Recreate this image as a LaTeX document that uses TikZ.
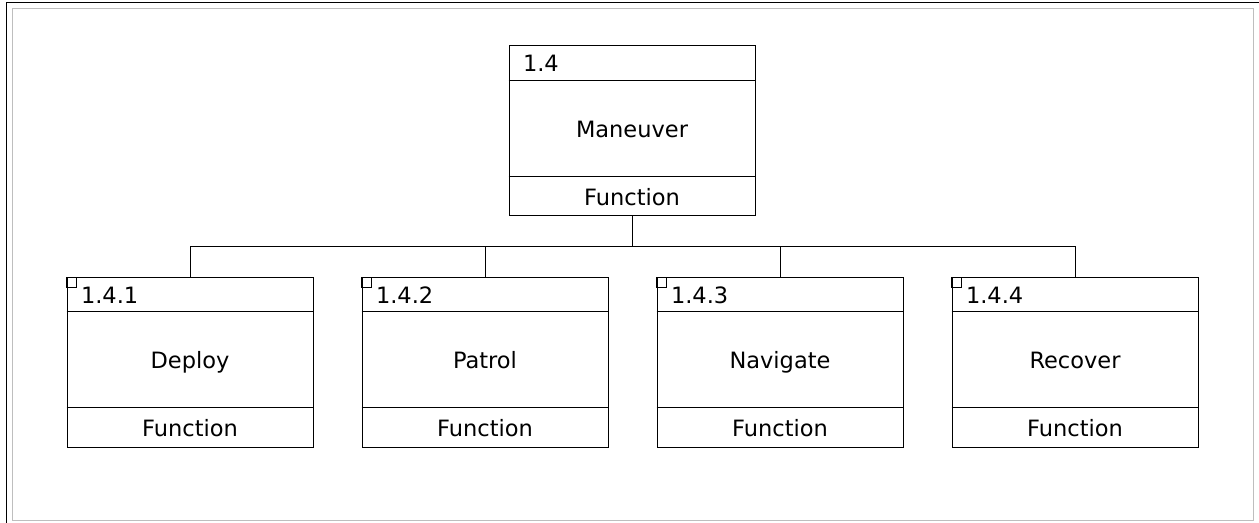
\documentclass[tikz,border=0pt]{standalone}
\usepackage{fontspec}
\setmainfont{DejaVu Sans}
\definecolor{framegray}{RGB}{190,190,190}
\tikzset{
  fbox/.style={draw, minimum width=123pt, minimum height=85pt, inner sep=0pt},
  fnum/.style={anchor=base west, inner sep=0pt},
  ftext/.style={anchor=base, inner sep=0pt}
}
\begin{document}
\begin{tikzpicture}[x=0.5pt,y=-0.5pt,line width=0.5pt,font=\fontsize{11.25}{13}\selectfont]
\useasboundingbox (0,0) rectangle (1259,523);
\draw (6,523) -- (6,3) -- (1259,3);
\draw[framegray] (12,9) rectangle (1253,521);

\node[fbox] (man) at (632,131) {};
\draw ([yshift=-17.5pt]man.north west) -- ([yshift=-17.5pt]man.north east);
\draw ([yshift=20pt]man.south west) -- ([yshift=20pt]man.south east);
\path (man.north west) ++(14,26) node[fnum] {1.4};
\path (man.north) ++(0,92) node[ftext] {Maneuver};
\path (man.north) ++(0,160) node[ftext] {Function};

\foreach \nm/\x/\num/\lab in {dep/190/1.4.1/Deploy, pat/485/1.4.2/Patrol,
    nav/780/1.4.3/Navigate, rec/1075/1.4.4/Recover} {
  \node[fbox] (\nm) at (\x,363) {};
  \draw ([yshift=-17pt]\nm.north west) -- ([yshift=-17pt]\nm.north east);
  \draw ([yshift=20.5pt]\nm.south west) -- ([yshift=20.5pt]\nm.south east);
  \draw (\nm.north west) rectangle ++(10,10);
  \path (\nm.north west) ++(14,26) node[fnum] {\num};
  \path (\nm.north) ++(0,91.5) node[ftext] {\lab};
  \path (\nm.north) ++(0,159.5) node[ftext] {Function};
  \draw (man.south) -- ++(0,30) -| (\nm.north);
}
\end{tikzpicture}
\end{document}
